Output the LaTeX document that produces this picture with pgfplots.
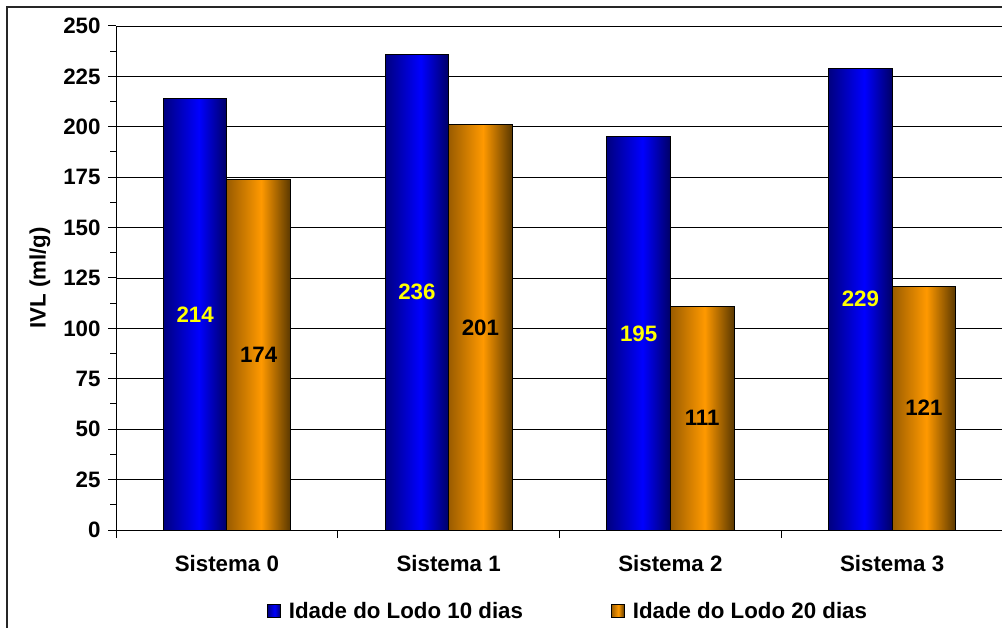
\documentclass[border=0pt]{standalone}
\usepackage{pgfplots}
\pgfplotsset{compat=1.18}
\usepackage{fontspec}
\setmainfont{Liberation Sans}

% bar colours: dark edges, bright highlight a little left of centre
\definecolor{blueEdgeL}{HTML}{000080}
\definecolor{blueMid}{HTML}{0000FF}
\definecolor{blueEdgeR}{HTML}{000066}
\definecolor{orgEdgeL}{HTML}{9A5C00}
\definecolor{orgMid}{HTML}{FF9900}
\definecolor{orgEdgeR}{HTML}{5A3800}
\definecolor{valYellow}{HTML}{FFFF00}

\pgfdeclarehorizontalshading{bluebar}{100bp}{%
  color(0bp)=(blueEdgeL); color(25bp)=(blueEdgeL); color(53bp)=(blueMid);
  color(75bp)=(blueEdgeR); color(100bp)=(blueEdgeR)}
\pgfdeclarehorizontalshading{orangebar}{100bp}{%
  color(0bp)=(orgEdgeL); color(25bp)=(orgEdgeL); color(52bp)=(orgMid);
  color(75bp)=(orgEdgeR); color(100bp)=(orgEdgeR)}

\newcommand\lbl{\fontsize{22.3bp}{26bp}\selectfont\bfseries}

% one bar per \addplot so that every bar gets its own gradient;
% the value label sits halfway up its bar
\pgfplotsset{
  barA/.style={ybar, bar shift=-0.14325, draw=black, line width=0.8bp,
    shade, shading=bluebar,
    every node near coord/.append style={text=valYellow,
      shift={(axis direction cs:-0.14325,-\rawy/2)}}},
  barB/.style={ybar, bar shift=0.14325, draw=black, line width=0.8bp,
    shade, shading=orangebar,
    every node near coord/.append style={text=black,
      shift={(axis direction cs:0.14325,-\rawy/2)}}},
}

\begin{document}
\begin{tikzpicture}
\useasboundingbox (0,0) rectangle (1002bp,628bp);
\begin{axis}[
  at={(116bp,98bp)}, anchor=south west,
  scale only axis, width=887bp, height=504bp,
  xmin=-0.5, xmax=3.5, ymin=0, ymax=250,
  axis x line*=bottom, axis y line*=left,
  axis line style={black, line width=1bp},
  ytick={0,25,...,250}, minor ytick={12.5,37.5,...,237.5},
  xtick={-0.5,0.5,1.5,2.5,3.5}, xticklabels={},
  extra x ticks={0,1,2,3},
  extra x tick labels={Sistema 0,Sistema 1,Sistema 2,Sistema 3},
  extra x tick style={major tick length=0pt},
  tick align=outside,
  major tick length=8bp, minor tick length=6bp,
  tick style={black, line width=1bp},
  ymajorgrids, major grid style={black, line width=0.8bp},
  /pgf/number format/assume math mode=true,
  ticklabel style={font=\lbl},
  yticklabel style={xshift=-4bp},
  xticklabel style={yshift=-22bp},
  ylabel={IVL (ml/g)},
  every axis y label/.style={at={(axis description cs:-0.0857,0.5)}, rotate=90, anchor=center, font=\lbl},
  bar width=0.2865,
  legend columns=2,
  legend style={at={(0.5096,-0.161)}, anchor=center, draw=none, fill=none, font=\lbl,
    /tikz/every even column/.append style={column sep=86bp}},
  legend image code/.code={\draw[#1,draw=black,line width=0.8bp] (0bp,-6.5bp) rectangle (13bp,6.5bp); \path (19bp,0bp);},
  visualization depends on=y \as \rawy,
  nodes near coords,
  every node near coord/.append style={font=\lbl, anchor=center},
]
\addplot[barA] coordinates {(0,214)};
\addlegendentry{Idade do Lodo 10 dias}
\addplot[barB] coordinates {(0,174)};
\addlegendentry{Idade do Lodo 20 dias}
\addplot[barA, forget plot] coordinates {(1,236)};
\addplot[barB, forget plot] coordinates {(1,201)};
\addplot[barA, forget plot] coordinates {(2,195)};
\addplot[barB, forget plot] coordinates {(2,111)};
\addplot[barA, forget plot] coordinates {(3,229)};
\addplot[barB, forget plot] coordinates {(3,121)};
\end{axis}
% chart frame
\draw[line width=1.3bp, black!85] (7bp,-10bp) -- (7bp,621bp) -- (1010bp,621bp);
\end{tikzpicture}
\end{document}
